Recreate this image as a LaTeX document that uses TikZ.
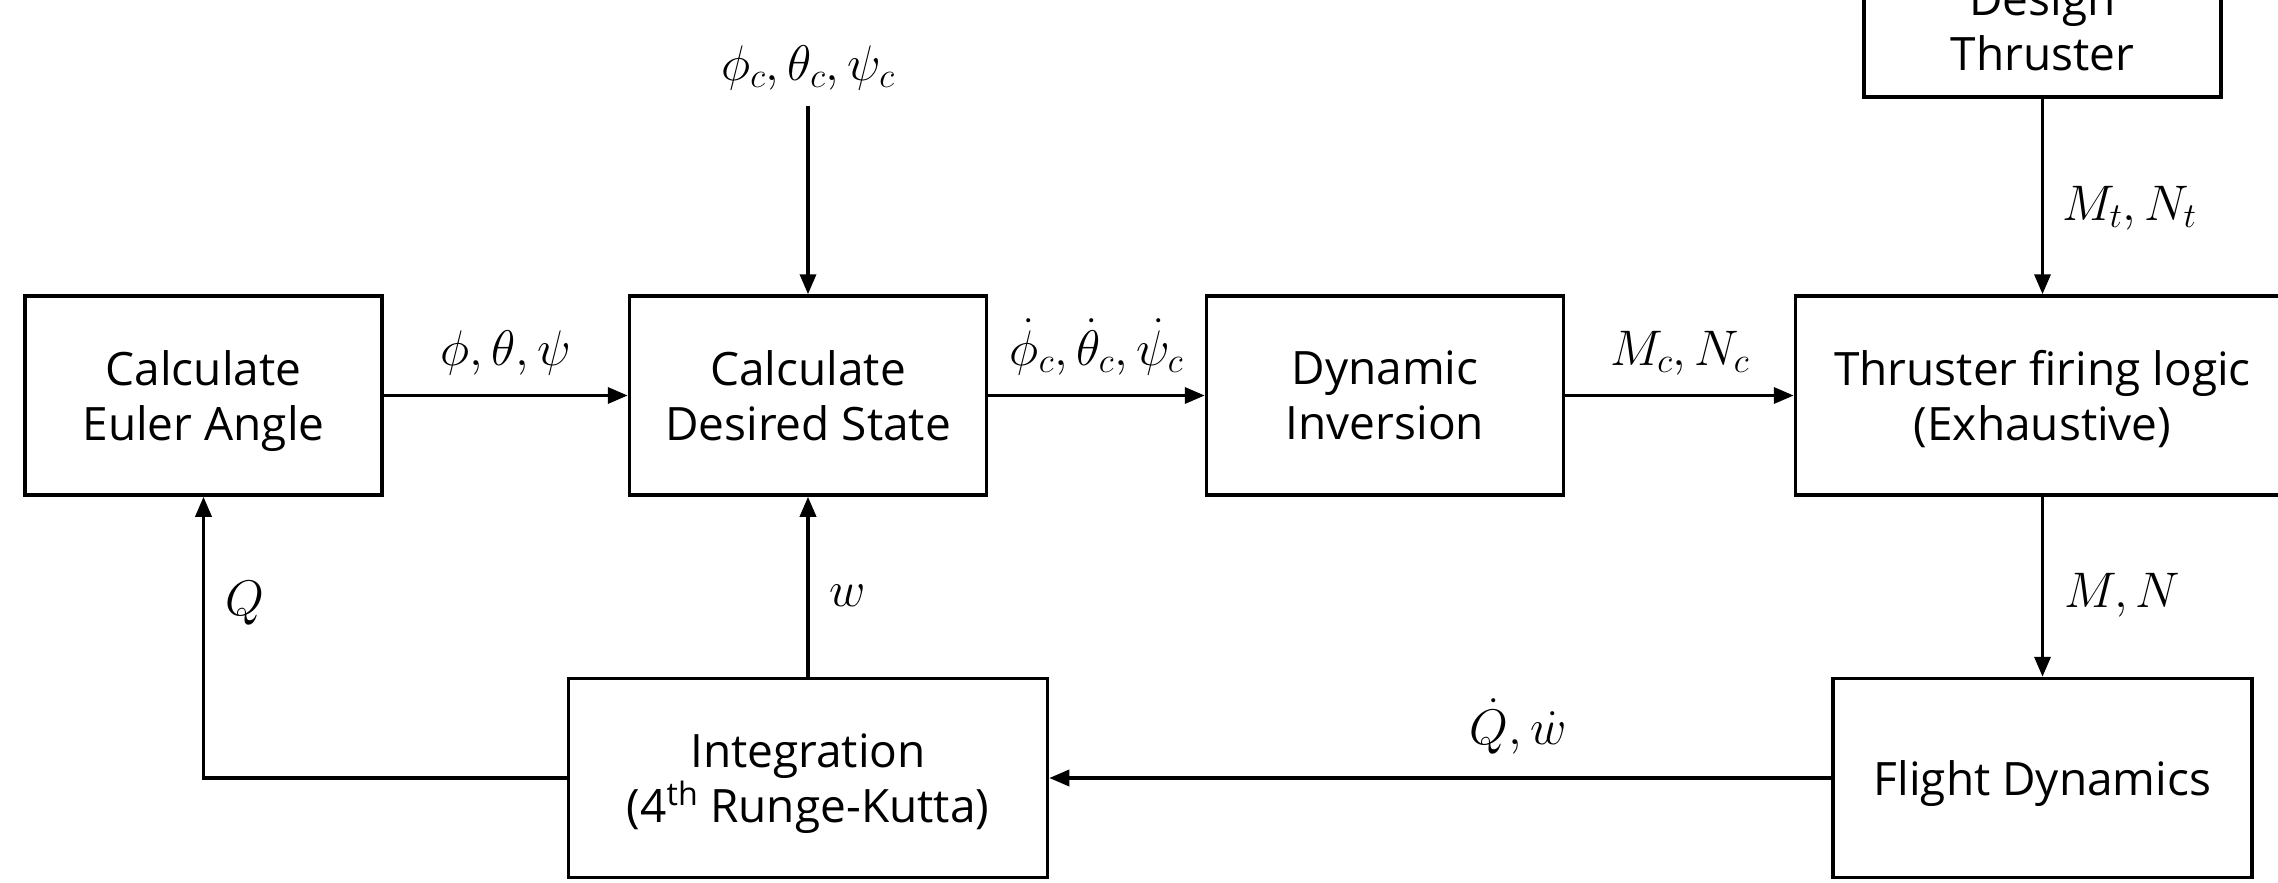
\RequirePackage{fix-cm}
\documentclass[tikz,border=0pt]{standalone}
\usepackage{fontspec}
\setmainfont{Open Sans}
\usetikzlibrary{arrows.meta,positioning}
\tikzset{
  block/.style={draw,line width=3.5pt,minimum width=357pt,minimum height=199pt,
    align=center,inner sep=0pt,text depth=0pt,font=\fontsize{46}{55}\selectfont},
  arrow/.style={-{Triangle[length=20pt,width=16pt]},line width=3.5pt},
  link/.style={line width=3.5pt},
  sig/.style={font=\fontsize{50}{56}\selectfont,inner sep=2pt}
}

\begin{document}
\begin{tikzpicture}[x=1pt,y=1pt]
  \clip (0,0) rectangle (2278,-883);
  % upper row
  \node[block] (euler) at (203.5,-395.5) {Calculate\\Euler Angle};
  \node[block] (desired) at (808,-395.5) {Calculate\\Desired State};
  \node[block] (dyninv) at (1385,-395.5) {Dynamic\\Inversion};
  \node[block,minimum width=494pt] (firing) at (2042.5,-395.5) {Thruster firing logic\\(Exhaustive)};
  \node[block,minimum height=141pt] (design) at (2042.5,-26.5) {Design\\Thruster};
  % lower row
  \node[block,minimum width=479pt] (integ) at (808,-778) {Integration\\(4\textsuperscript{th} Runge-Kutta)};
  \node[block,minimum width=419pt] (flight) at (2042.5,-778) {Flight Dynamics};
  \node[sig,inner sep=0pt] (cmd) at (808,-68) {$\phi_c,\theta_c,\psi_c$};

  \draw[arrow] (cmd.south) ++(0,-16) -- (desired.north);
  \draw[arrow] (euler) -- node[sig,above=17pt]{$\phi,\theta,\psi$} (desired);
  \draw[arrow] (desired) -- node[sig,above=17pt]{$\dot{\phi}_c,\dot{\theta}_c,\dot{\psi}_c$} (dyninv);
  \draw[arrow] (dyninv) -- node[sig,above=17pt]{$M_c,N_c$} (firing);
  \draw[arrow] (design) -- node[sig,right=16pt,pos=0.56]{$M_t,N_t$} (firing);
  \draw[arrow] (firing) -- node[sig,right=18pt,pos=0.55]{$M,N$} (flight);
  \draw[arrow] (flight) -- node[sig,above=20pt,pos=0.4]{$\dot{Q},\dot{w}$} (integ);
  \draw[arrow] (integ) -- node[sig,right=18pt,pos=0.45]{$w$} (desired);
  \draw[arrow] (integ.west) -| node[sig,right=18pt,pos=0.81]{$Q$} (euler.south);
\end{tikzpicture}
\end{document}
